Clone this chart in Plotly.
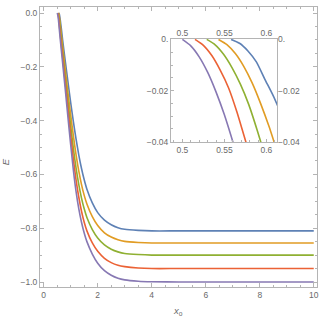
import plotly.graph_objects as go

# ---- data ----
x_purple = [0.5, 0.51, 0.52, 0.53, 0.54, 0.55, 0.56, 0.58, 0.6, 0.65, 0.7, 0.75, 0.8, 0.9, 1.0, 1.1, 1.2, 1.3, 1.4, 1.5, 1.6, 1.8, 2.0, 2.25, 2.5, 2.75, 3.0, 3.5, 4.0, 5.0, 10.0]
e_purple = [0, -0.0025, -0.0068, -0.0128, -0.0205, -0.0295, -0.04, -0.062, -0.084, -0.135, -0.185, -0.235, -0.285, -0.39, -0.49, -0.585, -0.665, -0.728, -0.778, -0.818, -0.85, -0.896, -0.93, -0.958, -0.975, -0.986, -0.992, -0.997, -0.999, -1.0, -1.0]

x_red = [0.515, 0.525, 0.535, 0.545, 0.555, 0.565, 0.575, 0.6, 0.65, 0.7, 0.75, 0.8, 0.9, 1.0, 1.1, 1.2, 1.3, 1.4, 1.5, 1.6, 1.8, 2.0, 2.25, 2.5, 2.75, 3.0, 3.5, 4.0, 5.0, 10.0]
e_red = [0, -0.0023, -0.0063, -0.012, -0.019, -0.0285, -0.0395, -0.066, -0.115, -0.163, -0.212, -0.26, -0.358, -0.455, -0.545, -0.622, -0.685, -0.737, -0.778, -0.81, -0.855, -0.886, -0.912, -0.928, -0.938, -0.943, -0.948, -0.95, -0.95, -0.95]

x_green = [0.529, 0.539, 0.549, 0.559, 0.569, 0.579, 0.589, 0.595, 0.62, 0.65, 0.7, 0.75, 0.8, 0.9, 1.0, 1.1, 1.2, 1.3, 1.4, 1.5, 1.6, 1.8, 2.0, 2.25, 2.5, 2.75, 3.0, 3.5, 4.0, 5.0, 10.0]
e_green = [0, -0.0021, -0.0058, -0.011, -0.0175, -0.0255, -0.0355, -0.042, -0.068, -0.098, -0.145, -0.192, -0.238, -0.33, -0.42, -0.505, -0.578, -0.638, -0.688, -0.728, -0.76, -0.805, -0.836, -0.862, -0.878, -0.888, -0.894, -0.898, -0.9, -0.9, -0.9]

x_orange = [0.543, 0.553, 0.563, 0.573, 0.583, 0.593, 0.603, 0.613, 0.63, 0.65, 0.7, 0.75, 0.8, 0.9, 1.0, 1.1, 1.2, 1.3, 1.4, 1.5, 1.6, 1.8, 2.0, 2.25, 2.5, 2.75, 3.0, 3.5, 4.0, 5.0, 10.0]
e_orange = [0, -0.002, -0.0055, -0.0105, -0.017, -0.025, -0.034, -0.044, -0.06, -0.079, -0.124, -0.169, -0.212, -0.298, -0.38, -0.458, -0.528, -0.588, -0.638, -0.678, -0.71, -0.757, -0.79, -0.817, -0.833, -0.843, -0.849, -0.853, -0.855, -0.855, -0.855]

x_blue = [0.558, 0.568, 0.578, 0.588, 0.598, 0.608, 0.618, 0.63, 0.65, 0.7, 0.8, 0.9, 1.0, 1.1, 1.2, 1.3, 1.4, 1.5, 1.6, 1.8, 2.0, 2.25, 2.5, 2.75, 3.0, 3.5, 4.0, 5.0, 10.0]
e_blue = [0, -0.0015, -0.0045, -0.0088, -0.0155, -0.022, -0.0295, -0.039, -0.055, -0.1, -0.18, -0.258, -0.334, -0.405, -0.47, -0.528, -0.578, -0.62, -0.655, -0.706, -0.742, -0.77, -0.787, -0.798, -0.804, -0.808, -0.81, -0.81, -0.81]

series = [
    (x_blue, e_blue, "#5E81B5"),
    (x_orange, e_orange, "#E19C24"),
    (x_green, e_green, "#8FB032"),
    (x_red, e_red, "#EB6235"),
    (x_purple, e_purple, "#8778B3"),
]

main_xticks = [0, 2, 4, 6, 8, 10]
main_yticks = [0.0, -0.2, -0.4, -0.6, -0.8, -1.0]
inset_xticks = [0.5, 0.55, 0.6]
inset_xlabels = ["0.5", "0.55", "0.6"]
inset_yticks = [0.0, -0.02, -0.04]
inset_ylabels = ["0.", "\u22120.02", "\u22120.04"]

FONT = "Liberation Sans"
AX = "#b4b4b4"
TXT = "#6a6a6a"
fs = 8.5

fig = go.Figure()
for xs, es, c in series:
    fig.add_trace(go.Scatter(x=xs, y=es, mode="lines", line=dict(color=c, width=1.6, shape="spline", smoothing=0.6),
                             xaxis="x", yaxis="y", showlegend=False, hoverinfo="skip"))
for xs, es, c in series:
    fig.add_trace(go.Scatter(x=xs, y=es, mode="lines", line=dict(color=c, width=1.6, shape="spline", smoothing=0.6),
                             xaxis="x2", yaxis="y2", showlegend=False, hoverinfo="skip"))
# helper traces to register mirrored label axes of the inset
fig.add_trace(go.Scatter(x=[None], y=[None], xaxis="x3", yaxis="y2", showlegend=False, hoverinfo="skip"))
fig.add_trace(go.Scatter(x=[None], y=[None], xaxis="x2", yaxis="y3", showlegend=False, hoverinfo="skip"))

common = dict(showgrid=False, zeroline=False, linecolor=AX, linewidth=1, tickcolor=AX, automargin=False,
              ticklabeloverflow="allow",
              tickfont=dict(family=FONT, size=fs, color=TXT))

xr_in = [0.4865, 0.6127]
yr_in = [-0.0401, 0.0002]

fig.update_layout(
    width=321, height=321,
    margin=dict(l=40, r=4, t=7, b=34),
    paper_bgcolor="white", plot_bgcolor="white",
    xaxis=dict(range=[-0.137, 10.12], tickvals=main_xticks, ticks="inside", ticklen=4,
               showline=True, mirror="allticks", minor=dict(ticks="inside", dtick=0.5, tick0=0, ticklen=2, tickcolor=AX),
               **common),
    yaxis=dict(range=[-1.0186, 0.0223], tickvals=main_yticks, tickformat=".1f", ticks="inside", ticklen=4,
               showline=True, mirror="allticks", minor=dict(ticks="inside", dtick=0.05, tick0=0, ticklen=2, tickcolor=AX),
               **common),
    xaxis2=dict(domain=[0.473, 0.856], anchor="y2", range=xr_in, tickvals=inset_xticks, ticktext=inset_xlabels,
                ticks="inside", ticklen=3, showline=True, mirror=True,
                minor=dict(ticks="inside", dtick=0.01, tick0=0.5, ticklen=1.5, tickcolor=AX), **common),
    yaxis2=dict(domain=[0.518, 0.886], anchor="x2", range=yr_in, tickvals=inset_yticks, ticktext=inset_ylabels,
                ticks="inside", ticklen=3, showline=True, mirror=True,
                minor=dict(ticks="inside", dtick=0.005, tick0=0, ticklen=1.5, tickcolor=AX), **common),
    xaxis3=dict(overlaying="x2", anchor="y2", side="top", range=xr_in, tickvals=inset_xticks, ticktext=inset_xlabels,
                ticks="", showline=False, **common),
    yaxis3=dict(overlaying="y2", anchor="x2", side="right", range=yr_in, tickvals=inset_yticks, ticktext=inset_ylabels,
                ticks="", showline=False, **common),
    annotations=[
        dict(text="<i>E</i>", xref="paper", yref="paper", x=-0.126, y=0.446, showarrow=False, textangle=-90,
             font=dict(family=FONT, size=9.5, color=TXT), xanchor="center", yanchor="middle"),
        dict(text="<i>x</i><sub>o</sub>", xref="paper", yref="paper", x=0.498, y=-0.085, showarrow=False,
             font=dict(family=FONT, size=9.5, color=TXT), xanchor="center", yanchor="middle"),
    ],
)

fig.write_html("out.html", config={"displayModeBar": False},
               post_script="document.body.style.margin='0';document.body.style.overflow='hidden';")
